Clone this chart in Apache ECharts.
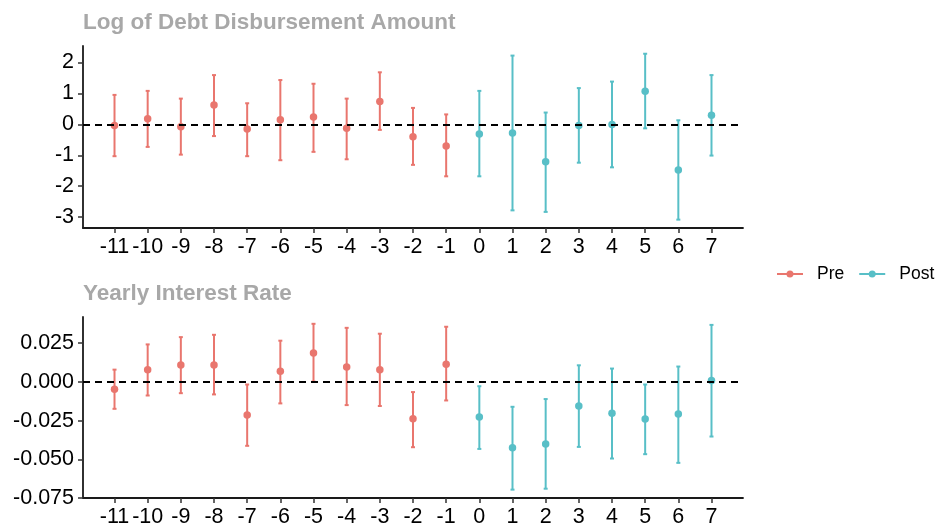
<!DOCTYPE html>
<html>
<head>
<meta charset="utf-8">
<script src="https://cdn.jsdelivr.net/npm/echarts@6/dist/echarts.min.js"></script>
<style>
html,body{margin:0;padding:0;background:#fff;}
#chart{width:939px;height:528px;}
</style>
</head>
<body>
<div id="chart"></div>
<script>
// ---- data ----
const periods = [-11,-10,-9,-8,-7,-6,-5,-4,-3,-2,-1,0,1,2,3,4,5,6,7];
const xTicks = [-11,-10,-9,-8,-7,-6,-5,-4,-3,-2,-1,0,1,2,3,4,5,6,7];

const debtEst = [-0.04,0.18,-0.08,0.62,-0.15,0.15,0.24,-0.13,0.74,-0.40,-0.70,-0.31,-0.28,-1.21,-0.04,-0.01,1.07,-1.48,0.29];
const debtLo  = [-1.03,-0.73,-0.98,-0.38,-1.03,-1.16,-0.89,-1.13,-0.18,-1.31,-1.68,-1.68,-2.78,-2.83,-1.24,-1.39,-0.13,-3.08,-1.01];
const debtHi  = [0.95,1.08,0.83,1.59,0.68,1.43,1.31,0.83,1.68,0.53,0.32,1.08,2.22,0.38,1.17,1.38,2.28,0.13,1.59];
const debtTicks = [-3,-2,-1,0,1,2];

const rateEst = [-0.0047,0.0079,0.0109,0.0109,-0.0214,0.0069,0.0186,0.0096,0.0079,-0.0238,0.0114,-0.0227,-0.0426,-0.0401,-0.0156,-0.0203,-0.0240,-0.0208,0.0009];
const rateLo  = [-0.0174,-0.0088,-0.0073,-0.0081,-0.0413,-0.0139,0.0002,-0.0150,-0.0156,-0.0422,-0.0120,-0.0433,-0.0696,-0.0690,-0.0420,-0.0495,-0.0467,-0.0523,-0.0353];
const rateHi  = [0.0079,0.0242,0.0289,0.0304,-0.0017,0.0266,0.0375,0.0349,0.0311,-0.0066,0.0356,-0.0028,-0.0161,-0.0111,0.0107,0.0086,-0.0017,0.0099,0.0368];
const rateTicks = [-0.075,-0.05,-0.025,0,0.025];

const titles = ['Log of Debt Disbursement Amount','Yearly Interest Rate'];
const groups = ['Pre','Post'];
const colors = {Pre:'#E9766E', Post:'#58BFC7'};

// ---- build ----
const FONT = 'Liberation Sans, Arial, sans-serif';
function split(est, lo, hi, grp){
  const pts=[], bars=[];
  periods.forEach((p,i)=>{
    const g = p < 0 ? 'Pre' : 'Post';
    if(g!==grp) return;
    pts.push([p, est[i]]);
    bars.push([p, lo[i], hi[i]]);
  });
  return {pts, bars};
}
function errRender(color){
  return function(params, api){
    const x = api.value(0);
    const a = api.coord([x, api.value(1)]);
    const b = api.coord([x, api.value(2)]);
    const c = 2;
    const st = {stroke: color, lineWidth: 2};
    return {type:'group', children:[
      {type:'line', shape:{x1:a[0],y1:a[1],x2:b[0],y2:b[1]}, style:st},
      {type:'line', shape:{x1:a[0]-c,y1:a[1],x2:a[0]+c,y2:a[1]}, style:st},
      {type:'line', shape:{x1:b[0]-c,y1:b[1],x2:b[0]+c,y2:b[1]}, style:st}
    ]};
  };
}

const grids = [
  {left:83, top:46, width:660, height:182},
  {left:83, top:317, width:660, height:181}
];
const axisLineStyle = {show:true, onZero:false, lineStyle:{color:'#1a1a1a', width:1.8}};
const tickStyle = {show:true, length:5, lineStyle:{color:'#333', width:1.5}};
const xAxes = grids.map((g,i)=>({
  type:'value', gridIndex:i, min:-11.95, max:7.95,
  axisLine:axisLineStyle, splitLine:{show:false},
  axisTick:Object.assign({}, tickStyle, {customValues:xTicks}),
  axisLabel:{customValues:xTicks, color:'#000', fontSize:21.5, fontFamily:FONT, margin:8, hideOverlap:false}
}));
const yAxes = [
  {
    type:'value', gridIndex:0, min:-3.35, max:2.53,
    axisLine:axisLineStyle, splitLine:{show:false},
    axisTick:Object.assign({}, tickStyle, {customValues:debtTicks}),
    axisLabel:{customValues:debtTicks, color:'#000', fontSize:21.5, fontFamily:FONT, margin:9}
  },
  {
    type:'value', gridIndex:1, min:-0.0750, max:0.0419,
    axisLine:axisLineStyle, splitLine:{show:false},
    axisTick:Object.assign({}, tickStyle, {customValues:rateTicks}),
    axisLabel:{customValues:rateTicks, color:'#000', fontSize:21.5, fontFamily:FONT, margin:9,
      formatter:v=>v.toFixed(3)}
  }
];

const panels = [[debtEst,debtLo,debtHi],[rateEst,rateLo,rateHi]];
const series = [];
panels.forEach((pd,i)=>{
  series.push({
    type:'line', name:'zero'+i, xAxisIndex:i, yAxisIndex:i, data:[], silent:true,
    markLine:{silent:true, symbol:'none', label:{show:false},
      lineStyle:{color:'#000', type:[7,5], width:1.8}, data:[{yAxis:0}]},
    z:2
  });
  groups.forEach(g=>{
    const d = split(pd[0],pd[1],pd[2],g);
    series.push({
      type:'custom', name:g, xAxisIndex:i, yAxisIndex:i,
      renderItem: errRender(colors[g]), data:d.bars, silent:true, z:3,
      itemStyle:{color:colors[g]}
    });
    series.push({
      type:'scatter', name:g, xAxisIndex:i, yAxisIndex:i,
      data:d.pts, symbol:'circle', symbolSize:7.5, z:4,
      itemStyle:{color:colors[g], opacity:1}
    });
  });
});

const legendIcon = 'path://M0,10 L26,10 L26,12 L0,12 Z M13,7.5 A3.5,3.5 0 1 1 12.99,7.5 Z';
const option = {
  animation:false,
  backgroundColor:'#fff',
  title: titles.map((t,i)=>({
    text:t, left:83, top: i===0 ? 11 : 282, padding:0,
    textStyle:{color:'#a8a8a8', fontSize:22.5, fontWeight:'bold', fontFamily:FONT}
  })),
  legend:{
    data: groups.map(g=>({name:g, icon:legendIcon, itemStyle:{color:colors[g]}})),
    left:777, top:265, orient:'horizontal', padding:0, itemWidth:26, itemHeight:22, itemGap:15,
    textStyle:{fontSize:17.5, color:'#000', fontFamily:FONT, padding:[0,0,0,9]}
  },
  grid: grids,
  xAxis: xAxes,
  yAxis: yAxes,
  series: series
};
const chart = echarts.init(document.getElementById('chart'), null, {renderer:'canvas'});
chart.setOption(option);
</script>
</body>
</html>
